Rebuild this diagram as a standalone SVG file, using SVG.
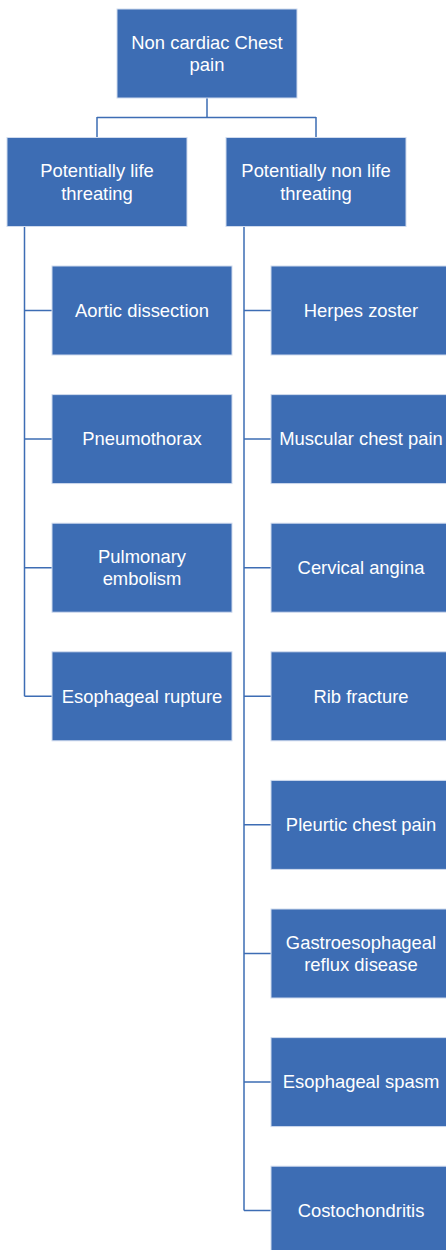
<svg xmlns="http://www.w3.org/2000/svg" width="446" height="1250" viewBox="0 0 446 1250">
<style>
.box{fill:#3D6DB4;stroke:#d0dbee;stroke-width:1}
.t{font-family:"Liberation Sans",Arial,Helvetica,sans-serif;font-size:18.4px;fill:#ffffff;text-anchor:middle}
.c{fill:none;stroke:#3D6DB4;stroke-width:1.5}
</style>
<rect width="446" height="1250" fill="#ffffff"/>
<g id="connectors">
<path class="c" d="M207 98V117.5M97 117.5H316M97 117V137M316 117V137"/>
<path class="c" d="M24.5 227V696.2M24.5 310.5H52M24.5 439.1H52M24.5 567.7H52M24.5 696.2H52"/>
<path class="c" d="M244 227V1210.5M244 310.5H271M244 439.1H271M244 567.7H271M244 696.2H271M244 824.8H271M244 953.4H271M244 1082H271M244 1210.5H271"/>
</g>
<g id="root"><rect class="box" x="117" y="9" width="180" height="89"/><text class="t" x="207" y="48.5">Non cardiac Chest</text><text class="t" x="207" y="71">pain</text></g>
<g id="life"><rect class="box" x="7" y="137.5" width="180" height="89"/><text class="t" x="97" y="177">Potentially life</text><text class="t" x="97" y="199.5">threating</text></g>
<g id="nonlife"><rect class="box" x="226" y="137.5" width="180" height="89"/><text class="t" x="316" y="177">Potentially non life</text><text class="t" x="316" y="199.5">threating</text></g>
<g id="aortic"><rect class="box" x="52" y="266" width="180" height="89"/><text class="t" x="142" y="316.8">Aortic dissection</text></g>
<g id="pneumo"><rect class="box" x="52" y="394.6" width="180" height="89"/><text class="t" x="142" y="445.4">Pneumothorax</text></g>
<g id="pe"><rect class="box" x="52" y="523.2" width="180" height="89"/><text class="t" x="142" y="562.7">Pulmonary</text><text class="t" x="142" y="585.2">embolism</text></g>
<g id="rupture"><rect class="box" x="52" y="651.8" width="180" height="89"/><text class="t" x="142" y="702.5">Esophageal rupture</text></g>
<g id="herpes"><rect class="box" x="271" y="266" width="180" height="89"/><text class="t" x="361" y="316.8">Herpes zoster</text></g>
<g id="muscular"><rect class="box" x="271" y="394.6" width="180" height="89"/><text class="t" x="361" y="445.4">Muscular chest pain</text></g>
<g id="cervical"><rect class="box" x="271" y="523.2" width="180" height="89"/><text class="t" x="361" y="574">Cervical angina</text></g>
<g id="rib"><rect class="box" x="271" y="651.8" width="180" height="89"/><text class="t" x="361" y="702.5">Rib fracture</text></g>
<g id="pleuritic"><rect class="box" x="271" y="780.4" width="180" height="89"/><text class="t" x="361" y="831.1">Pleurtic chest pain</text></g>
<g id="gerd"><rect class="box" x="271" y="909" width="180" height="89"/><text class="t" x="361" y="948.5">Gastroesophageal</text><text class="t" x="361" y="971">reflux disease</text></g>
<g id="spasm"><rect class="box" x="271" y="1037.6" width="180" height="89"/><text class="t" x="361" y="1088.3">Esophageal spasm</text></g>
<g id="costo"><rect class="box" x="271" y="1166.2" width="180" height="89"/><text class="t" x="361" y="1216.8">Costochondritis</text></g>
</svg>
